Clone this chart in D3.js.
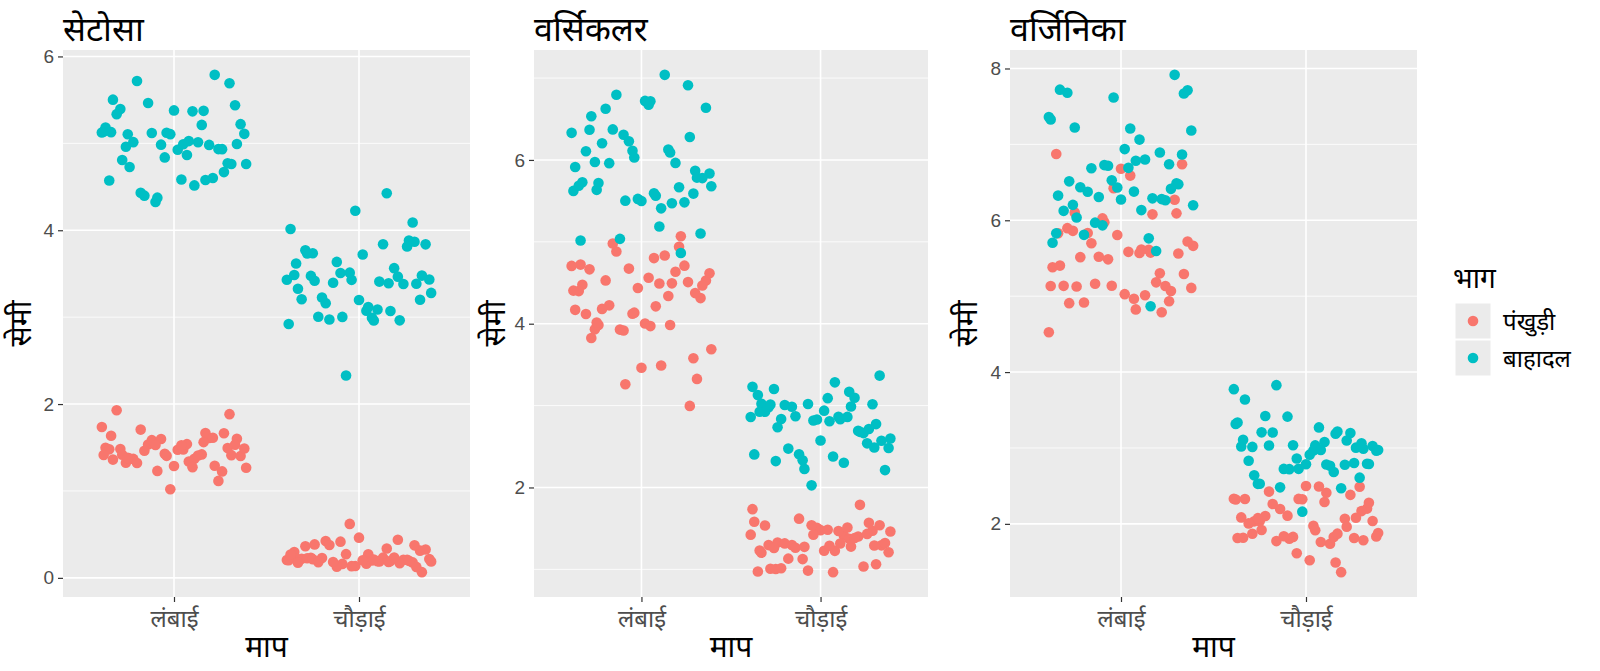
<!DOCTYPE html>
<html>
<head>
<meta charset="utf-8">
<style>
  body { margin: 0; background: #fff; }
  text { font-family: "Noto Sans", "Liberation Sans", sans-serif; }
  .num { font-family: "Liberation Sans", Arial, sans-serif; }
</style>
</head>
<body>
<svg id="chart" width="1600" height="671"></svg>
<script src="https://cdn.jsdelivr.net/npm/d3@7"></script>
<script>
// iris values per species
const setosaSepalLength = [5.1,4.9,4.7,4.6,5.0,5.4,4.6,5.0,4.4,4.9,5.4,4.8,4.8,4.3,5.8,5.7,5.4,5.1,5.7,5.1,5.4,5.1,4.6,5.1,4.8,5.0,5.0,5.2,5.2,4.7,4.8,5.4,5.2,5.5,4.9,5.0,5.5,4.9,4.4,5.1,5.0,4.5,4.4,5.0,5.1,4.8,5.1,4.6,5.3,5.0]
const setosaSepalWidth = [3.5,3.0,3.2,3.1,3.6,3.9,3.4,3.4,2.9,3.1,3.7,3.4,3.0,3.0,4.0,4.4,3.9,3.5,3.8,3.8,3.4,3.7,3.6,3.3,3.4,3.0,3.4,3.5,3.4,3.2,3.1,3.4,4.1,4.2,3.1,3.2,3.5,3.6,3.0,3.4,3.5,2.3,3.2,3.5,3.8,3.0,3.8,3.2,3.7,3.3]
const setosaPetalLength = [1.4,1.4,1.3,1.5,1.4,1.7,1.4,1.5,1.4,1.5,1.5,1.6,1.4,1.1,1.2,1.5,1.3,1.4,1.7,1.5,1.7,1.5,1.0,1.7,1.9,1.6,1.6,1.5,1.4,1.6,1.6,1.5,1.5,1.4,1.5,1.2,1.3,1.4,1.3,1.5,1.3,1.3,1.3,1.6,1.9,1.4,1.6,1.4,1.5,1.4]
const setosaPetalWidth = [0.2,0.2,0.2,0.2,0.2,0.4,0.3,0.2,0.2,0.1,0.2,0.2,0.1,0.1,0.2,0.4,0.4,0.3,0.3,0.3,0.2,0.4,0.2,0.5,0.2,0.2,0.4,0.2,0.2,0.2,0.2,0.4,0.1,0.2,0.2,0.2,0.2,0.1,0.2,0.2,0.3,0.3,0.2,0.6,0.4,0.3,0.2,0.2,0.2,0.2]

const versicolorSepalLength = [7.0,6.4,6.9,5.5,6.5,5.7,6.3,4.9,6.6,5.2,5.0,5.9,6.0,6.1,5.6,6.7,5.6,5.8,6.2,5.6,5.9,6.1,6.3,6.1,6.4,6.6,6.8,6.7,6.0,5.7,5.5,5.5,5.8,6.0,5.4,6.0,6.7,6.3,5.6,5.5,5.5,6.1,5.8,5.0,5.6,5.7,5.7,6.2,5.1,5.7]
const versicolorSepalWidth = [3.2,3.2,3.1,2.3,2.8,2.8,3.3,2.4,2.9,2.7,2.0,3.0,2.2,2.9,2.9,3.1,3.0,2.7,2.2,2.5,3.2,2.8,2.5,2.8,2.9,3.0,2.8,3.0,2.9,2.6,2.4,2.4,2.7,2.7,3.0,3.4,3.1,2.3,3.0,2.5,2.6,3.0,2.6,2.3,2.7,3.0,2.9,2.9,2.5,2.8]
const versicolorPetalLength = [4.7,4.5,4.9,4.0,4.6,4.5,4.7,3.3,4.6,3.9,3.5,4.2,4.0,4.7,3.6,4.4,4.5,4.1,4.5,3.9,4.8,4.0,4.9,4.7,4.3,4.4,4.8,5.0,4.5,3.5,3.8,3.7,3.9,5.1,4.5,4.5,4.7,4.4,4.1,4.0,4.4,4.6,4.0,3.3,4.2,4.2,4.2,4.3,3.0,4.1]
const versicolorPetalWidth = [1.4,1.5,1.5,1.3,1.5,1.3,1.6,1.0,1.3,1.4,1.0,1.5,1.0,1.4,1.3,1.4,1.5,1.0,1.5,1.1,1.8,1.3,1.5,1.2,1.3,1.4,1.4,1.7,1.5,1.0,1.1,1.0,1.2,1.6,1.5,1.6,1.5,1.3,1.3,1.3,1.2,1.4,1.2,1.0,1.3,1.2,1.3,1.3,1.1,1.3]

const virginicaSepalLength = [6.3,5.8,7.1,6.3,6.5,7.6,4.9,7.3,6.7,7.2,6.5,6.4,6.8,5.7,5.8,6.4,6.5,7.7,7.7,6.0,6.9,5.6,7.7,6.3,6.7,7.2,6.2,6.1,6.4,7.2,7.4,7.9,6.4,6.3,6.1,7.7,6.3,6.4,6.0,6.9,6.7,6.9,5.8,6.8,6.7,6.7,6.3,6.5,6.2,5.9]
const virginicaSepalWidth = [3.3,2.7,3.0,2.9,3.0,3.0,2.5,2.9,2.5,3.6,3.2,2.7,3.0,2.5,2.8,3.2,3.0,3.8,2.6,2.2,3.2,2.8,2.8,2.7,3.3,3.2,2.8,3.0,2.8,3.0,2.8,3.8,2.8,2.8,2.6,3.0,3.4,3.1,3.0,3.1,3.1,3.1,2.7,3.2,3.3,3.0,2.5,3.0,3.4,3.0]
const virginicaPetalLength = [6.0,5.1,5.9,5.6,5.8,6.6,4.5,6.3,5.8,6.1,5.1,5.3,5.5,5.0,5.1,5.3,5.5,6.7,6.9,5.0,5.7,4.9,6.7,4.9,5.7,6.0,4.8,4.9,5.6,5.8,6.1,6.4,5.6,5.1,5.6,6.1,5.6,5.5,4.8,5.4,5.6,5.1,5.1,5.9,5.7,5.2,5.0,5.2,5.4,5.1]
const virginicaPetalWidth = [2.5,1.9,2.1,1.8,2.2,2.1,1.7,1.8,1.8,2.5,2.0,1.9,2.1,2.0,2.4,2.3,1.8,2.2,2.3,1.5,2.3,2.0,2.0,1.8,2.1,1.8,1.8,1.8,2.1,1.6,1.9,2.0,2.2,1.5,1.4,2.3,2.4,1.8,1.8,2.1,2.4,2.3,1.9,2.3,2.5,2.3,1.9,2.0,2.3,1.8]

const speciesTitles = ["सेटोसा", "वर्सिकलर", "वर्जिनिका"]
const measures = ["लंबाई", "चौड़ाई"]
const parts = ["पंखुड़ी", "बाहादल"]
const yTicks = [[0, 2, 4, 6], [2, 4, 6], [2, 4, 6, 8]]
const yMinor = [[1, 3, 5], [1, 3, 5, 7], [3, 5, 7]]

// fixed jitter offsets standing in for geom_jitter (x in category units, y in cm)
const jitterX = [0.31,-0.22,0.08,-0.37,0.15,0.27,-0.05,-0.29,0.36,-0.14,
  0.02,0.19,-0.33,0.24,-0.09,0.38,-0.26,0.11,-0.18,0.05,
  -0.39,0.29,-0.02,0.17,-0.31,0.34,-0.12,0.07,-0.24,0.21,
  -0.07,0.33,-0.35,0.13,-0.16,0.26,0.0,-0.28,0.39,-0.1,
  0.22,-0.2,0.1,-0.34,0.3,-0.04,0.16,-0.38,0.04,-0.25]
const jitterY = [0.012,-0.031,0.038,-0.004,0.021,-0.036,0.027,-0.018,0.003,0.034,
  -0.025,0.009,-0.039,0.016,0.031,-0.011,0.024,-0.029,0.006,-0.022,
  0.036,-0.007,0.019,-0.034,0.028,0.001,-0.015,0.039,-0.027,0.013,
  -0.002,0.033,-0.021,0.008,-0.037,0.025,-0.012,0.017,-0.032,0.029,
  -0.009,0.022,-0.026,0.035,-0.016,0.004,-0.038,0.014,0.026,-0.019]

const colors = { "पंखुड़ी": "#F8766D", "बाहादल": "#00BFC4" }

const speciesData = [
  [setosaSepalLength, setosaSepalWidth, setosaPetalLength, setosaPetalWidth],
  [versicolorSepalLength, versicolorSepalWidth, versicolorPetalLength, versicolorPetalWidth],
  [virginicaSepalLength, virginicaSepalWidth, virginicaPetalLength, virginicaPetalWidth]
]

const panels = [
  { left: 63, right: 470, ylab: 31 },
  { left: 534, right: 928, ylab: 505 },
  { left: 1010, right: 1417, ylab: 977 }
]
const panelTop = 50, panelBottom = 597

const svg = d3.select("#chart")

speciesData.forEach((arrs, s) => {
  const p = panels[s]
  // long-format points: petal then sepal, length then width
  let pts = []
  const groups = [
    { vals: arrs[2], measure: measures[0], part: parts[0] },
    { vals: arrs[3], measure: measures[1], part: parts[0] },
    { vals: arrs[0], measure: measures[0], part: parts[1] },
    { vals: arrs[1], measure: measures[1], part: parts[1] }
  ]
  groups.forEach((g, gi) => {
    g.vals.forEach((v, i) => {
      pts.push({
        v: v + jitterY[(i + gi * 11 + s * 5) % jitterY.length],
        measure: g.measure, part: g.part,
        j: jitterX[(i + gi * 13 + s * 7) % jitterX.length]
      })
    })
  })

  const ext = d3.extent(pts, d => d.v)
  const pad = (ext[1] - ext[0]) * 0.05
  const y = d3.scaleLinear().domain([ext[0] - pad, ext[1] + pad]).range([panelBottom, panelTop])

  const x = d3.scalePoint().domain(measures).range([p.left, p.right]).padding(0.6)
  const step = x.step()

  const g = svg.append("g")

  g.append("rect")
    .attr("x", p.left).attr("y", panelTop)
    .attr("width", p.right - p.left).attr("height", panelBottom - panelTop)
    .attr("fill", "#EBEBEB")

  // minor grid
  g.selectAll(".minor").data(yMinor[s].filter(t => y(t) > panelTop && y(t) < panelBottom)).enter()
    .append("line")
    .attr("x1", p.left).attr("x2", p.right)
    .attr("y1", d => y(d)).attr("y2", d => y(d))
    .attr("stroke", "#fff").attr("stroke-width", 0.8)

  // major grid
  g.selectAll(".major").data(yTicks[s]).enter()
    .append("line")
    .attr("x1", p.left).attr("x2", p.right)
    .attr("y1", d => y(d)).attr("y2", d => y(d))
    .attr("stroke", "#fff").attr("stroke-width", 1.6)
  g.selectAll(".vmajor").data(measures).enter()
    .append("line")
    .attr("x1", d => x(d)).attr("x2", d => x(d))
    .attr("y1", panelTop).attr("y2", panelBottom)
    .attr("stroke", "#fff").attr("stroke-width", 1.6)

  // y axis
  const yAxis = g.append("g")
    .attr("transform", `translate(${p.left},0)`)
    .call(d3.axisLeft(y).tickValues(yTicks[s]).tickFormat(d3.format("d")).tickSize(5).tickPadding(4))
  yAxis.select(".domain").remove()
  yAxis.selectAll(".tick line").attr("stroke", "#333").attr("stroke-width", 1.2)
  yAxis.selectAll(".tick text").attr("class", "num").attr("fill", "#4D4D4D").style("font-size", "19px")

  // x axis
  const xAxis = g.append("g")
    .attr("transform", `translate(0,${panelBottom})`)
    .call(d3.axisBottom(x).tickSize(5))
  xAxis.select(".domain").remove()
  xAxis.selectAll(".tick line").attr("stroke", "#333").attr("stroke-width", 1.2)
  xAxis.selectAll(".tick text")
    .attr("y", 30).attr("dy", null)
    .attr("fill", "#4D4D4D").style("font-size", "24px")

  // points
  g.selectAll("circle").data(pts).enter()
    .append("circle")
    .attr("cx", d => x(d.measure) + d.j * step)
    .attr("cy", d => y(d.v))
    .attr("r", 5.3)
    .attr("fill", d => colors[d.part])

  // titles
  g.append("text")
    .attr("x", p.left).attr("y", 41)
    .style("font-size", "34px").attr("fill", "#000")
    .text(speciesTitles[s])
  g.append("text")
    .attr("x", (p.left + p.right) / 2).attr("y", 657)
    .attr("text-anchor", "middle")
    .style("font-size", "30px").attr("fill", "#000")
    .text("माप")
  g.append("text")
    .attr("transform", `translate(${p.ylab},${(panelTop + panelBottom) / 2}) rotate(-90)`)
    .attr("text-anchor", "middle")
    .style("font-size", "30px").attr("fill", "#000")
    .text("सेमी")
})

// legend
const legend = svg.append("g").attr("transform", "translate(1453,0)")
legend.append("text")
  .attr("x", 0).attr("y", 288)
  .style("font-size", "28px").attr("fill", "#000")
  .text("भाग")
parts.forEach((part, i) => {
  const ky = 303 + i * 37
  legend.append("rect")
    .attr("x", 2).attr("y", ky)
    .attr("width", 36).attr("height", 36)
    .attr("fill", "#EBEBEB").attr("stroke", "#fff").attr("stroke-width", 1)
  legend.append("circle")
    .attr("cx", 20).attr("cy", ky + 18).attr("r", 5.3)
    .attr("fill", colors[part])
  legend.append("text")
    .attr("x", 50).attr("y", ky + 27)
    .style("font-size", "24px").attr("fill", "#000")
    .text(part)
})
</script>
</body>
</html>
